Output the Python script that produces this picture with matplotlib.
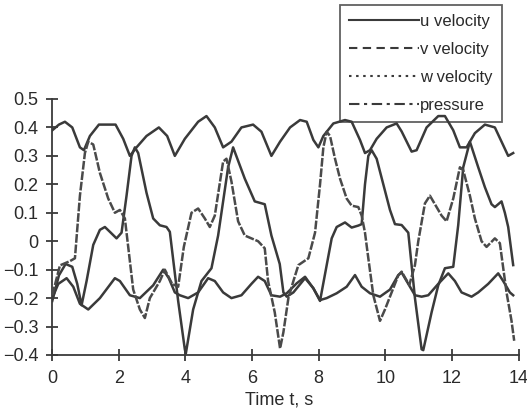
import matplotlib
matplotlib.use('Agg')
import matplotlib.pyplot as plt
from matplotlib.lines import Line2D

plt.rcParams['font.family'] = ['Liberation Sans', 'DejaVu Sans']

# ---- data ----
t_u = [0.0, 0.2, 0.38, 0.6, 0.83, 0.95, 1.13, 1.4, 1.9, 2.13, 2.33, 2.53, 2.83, 3.2, 3.45,
       3.68, 3.98, 4.38, 4.63, 4.88, 5.13, 5.38, 5.68, 6.03, 6.28, 6.58, 6.84, 7.14, 7.44,
       7.64, 7.84, 7.99, 8.14, 8.44, 8.79, 8.99, 9.24, 9.39, 9.54, 9.74, 10.04, 10.34,
       10.49, 10.79, 10.94, 11.24, 11.59, 11.79, 12.04, 12.24, 12.44, 12.69, 12.99, 13.29,
       13.49, 13.69, 13.84]
u_vel = [0.39, 0.41, 0.42, 0.40, 0.33, 0.32, 0.37, 0.41, 0.41, 0.36, 0.30, 0.33, 0.37, 0.40, 0.37,
         0.30, 0.36, 0.42, 0.44, 0.40, 0.33, 0.35, 0.40, 0.41, 0.385, 0.30, 0.35, 0.40, 0.426,
         0.42, 0.356, 0.33, 0.37, 0.414, 0.426, 0.42, 0.356, 0.31, 0.32, 0.36, 0.40, 0.414,
         0.386, 0.315, 0.32, 0.40, 0.44, 0.44, 0.39, 0.33, 0.33, 0.38, 0.41, 0.40,
         0.35, 0.30, 0.31]

t_v = [0.0, 0.2, 0.4, 0.6, 0.75, 0.88, 1.03, 1.23, 1.43, 1.58, 1.73, 1.93, 2.08, 2.23, 2.38,
       2.48, 2.58, 2.83, 3.03, 3.23, 3.43, 3.53, 3.78, 3.98, 4.01, 4.23, 4.48, 4.78, 4.98,
       5.28, 5.43, 5.78, 6.08, 6.38, 6.58, 6.83, 6.94, 7.04, 7.24, 7.59, 7.84, 8.04, 8.24,
       8.39, 8.54, 8.79, 8.99, 9.19, 9.29, 9.39, 9.49, 9.59, 9.74, 9.94, 10.14, 10.29, 10.49,
       10.69, 10.89, 11.09, 11.14, 11.39, 11.59, 11.79, 12.04, 12.19, 12.34, 12.54, 12.79,
       12.99, 13.19, 13.29, 13.49, 13.59, 13.69, 13.84]
v_vel = [-0.21, -0.12, -0.08, -0.09, -0.15, -0.225, -0.14, -0.013, 0.04, 0.05, 0.033, 0.01, 0.03,
         0.16, 0.30, 0.33, 0.31, 0.17, 0.08, 0.056, 0.05, 0.033, -0.21, -0.38, -0.395, -0.24,
         -0.14, -0.095, 0.02, 0.26, 0.33, 0.22, 0.14, 0.13, 0.02, -0.08, -0.18, -0.195, -0.18,
         -0.13, -0.165, -0.21, -0.084, 0.01, 0.05, 0.066, 0.048, 0.055, 0.06, 0.2, 0.30, 0.32,
         0.29, 0.20, 0.11, 0.06, 0.057, 0.03, -0.2, -0.38, -0.383, -0.25, -0.155, -0.095,
         -0.09, 0.057, 0.26, 0.35, 0.26, 0.19, 0.13, 0.12, 0.14, 0.10, 0.05, -0.084]

t_w = [0.0, 0.18, 0.43, 0.63, 0.83, 1.08, 1.43, 1.88, 2.03, 2.33, 2.63, 3.03, 3.33, 3.5, 3.68,
       3.83, 4.08, 4.38, 4.68, 4.88, 5.13, 5.38, 5.68, 5.98, 6.18, 6.38, 6.58, 6.84, 7.04,
       7.34, 7.59, 7.84, 8.04, 8.24, 8.54, 8.84, 9.09, 9.29, 9.54, 9.84, 10.14, 10.39,
       10.49, 10.69, 10.89, 11.09, 11.29, 11.59, 11.89, 12.09, 12.29, 12.59, 12.79, 13.09,
       13.39, 13.54, 13.74, 13.84]
w_vel = [-0.2, -0.15, -0.13, -0.16, -0.22, -0.24, -0.2, -0.13, -0.14, -0.19, -0.2, -0.155,
         -0.1, -0.13, -0.18, -0.19, -0.2, -0.18, -0.13, -0.14, -0.18, -0.2, -0.19, -0.15,
         -0.125, -0.14, -0.19, -0.195, -0.183, -0.148, -0.125, -0.166, -0.207, -0.2, -0.183,
         -0.16, -0.119, -0.16, -0.183, -0.195, -0.17, -0.119, -0.11, -0.15, -0.19, -0.195,
         -0.19, -0.15, -0.113, -0.14, -0.18, -0.195, -0.18, -0.15, -0.113, -0.14, -0.18, -0.19]

t_p = [0.0, 0.23, 0.53, 0.68, 0.83, 0.98, 1.08, 1.23, 1.43, 1.68, 1.88, 2.03, 2.18, 2.43, 2.63,
       2.78, 2.93, 3.23, 3.38, 3.6, 3.78, 3.95, 4.18, 4.38, 4.58, 4.73, 4.88, 5.13, 5.23,
       5.38, 5.58, 5.78, 5.98, 6.18, 6.38, 6.48, 6.68, 6.84, 6.94, 7.09, 7.24, 7.39, 7.54,
       7.69, 7.89, 8.04, 8.14, 8.24, 8.34, 8.49, 8.64, 8.84, 8.99, 9.19, 9.29, 9.39, 9.49,
       9.64, 9.84, 9.99, 10.19, 10.39, 10.49, 10.72, 10.89, 10.99, 11.19, 11.34, 11.49,
       11.69, 11.84, 12.04, 12.24, 12.34, 12.54, 12.69, 12.89, 13.04, 13.29, 13.44, 13.64,
       13.79, 13.87]
pressure = [-0.19, -0.085, -0.07, -0.06, 0.16, 0.31, 0.35, 0.34, 0.24, 0.15, 0.10, 0.11, 0.08,
            -0.17, -0.24, -0.27, -0.2, -0.14, -0.1, -0.15, -0.16, -0.02, 0.10, 0.115, 0.08,
            0.05, 0.09, 0.28, 0.29, 0.21, 0.07, 0.02, 0.01, 0.0, -0.025, -0.14, -0.25, -0.377,
            -0.32, -0.2, -0.14, -0.084, -0.072, -0.06, 0.03, 0.2, 0.33, 0.385, 0.37, 0.29, 0.22,
            0.15, 0.125, 0.12, 0.09, 0.03, -0.06, -0.19, -0.28, -0.24, -0.18, -0.12, -0.107,
            -0.154, -0.084, 0.0, 0.133, 0.16, 0.13, 0.09, 0.07, 0.15, 0.26, 0.25, 0.16, 0.08,
            0.0, -0.02, 0.01, -0.007, -0.18, -0.28, -0.35]

labels = ['u velocity', 'v velocity', 'w velocity', 'pressure']
x_ticks = [0, 2, 4, 6, 8, 10, 12, 14]
y_ticks = [-0.4, -0.3, -0.2, -0.1, 0.0, 0.1, 0.2, 0.3, 0.4, 0.5]
y_tick_labels = ['\u22120.4', '\u22120.3', '\u22120.2', '\u22120.1', '0',
                 '0.1', '0.2', '0.3', '0.4', '0.5']

# ---- figure ----
ink = '#3a3a3a'
fig = plt.figure(figsize=(5.27, 4.17), dpi=100)
ax = fig.add_axes([0.0992, 0.1487, 0.8847, 0.6139])

lw = 1.8
ax.plot(t_u, u_vel, color=ink, lw=lw, solid_joinstyle='round', zorder=3)
ax.plot(t_v, v_vel, color=ink, lw=lw, solid_joinstyle='round', zorder=3)
ax.plot(t_w, w_vel, color=ink, lw=lw, solid_joinstyle='round', zorder=3)
ax.plot(t_p, pressure, color='#4a4a4a', lw=lw, linestyle=(0, (3.5, 0.7)), zorder=3)

ax.set_xlim(0, 14)
ax.set_ylim(-0.4, 0.5)
ax.set_xticks(x_ticks)
ax.set_xticklabels([str(v) for v in x_ticks])
ax.set_yticks(y_ticks)
ax.set_yticklabels(y_tick_labels)

for s in ['top', 'right']:
    ax.spines[s].set_visible(False)
for s in ['left', 'bottom']:
    ax.spines[s].set_color(ink)
    ax.spines[s].set_linewidth(1.3)

ax.tick_params(direction='inout', length=8, width=1.3, color=ink,
               labelsize=13, labelcolor='#2a2a2a')
ax.tick_params(axis='x', pad=7)
ax.tick_params(axis='y', pad=6)
ax.set_xlabel('Time t, s', fontsize=13, color='#2a2a2a')
ax.xaxis.set_label_coords(0.486, -0.142)

handles = [
    Line2D([], [], color=ink, lw=1.5, linestyle='-'),
    Line2D([], [], color=ink, lw=1.5, linestyle=(0, (4, 2.6))),
    Line2D([], [], color=ink, lw=1.5, linestyle=(0, (1.2, 2.2))),
    Line2D([], [], color=ink, lw=1.5, linestyle=(0, (5, 2.2, 1.5, 2.2))),
]
leg = fig.legend(handles, labels, loc='upper right',
                 bbox_to_anchor=(0.9526, 0.988), bbox_transform=fig.transFigure,
                 fontsize=12, frameon=True, fancybox=False, borderaxespad=0,
                 handlelength=4.2, handletextpad=0.1, labelspacing=0.77,
                 borderpad=0.55)
leg.get_frame().set_edgecolor(ink)
leg.get_frame().set_linewidth(1.3)
leg.get_frame().set_facecolor('none')
leg.set_zorder(1)
for txt in leg.get_texts():
    txt.set_color('#2a2a2a')

fig.savefig('out.png', dpi=100, facecolor='white')
